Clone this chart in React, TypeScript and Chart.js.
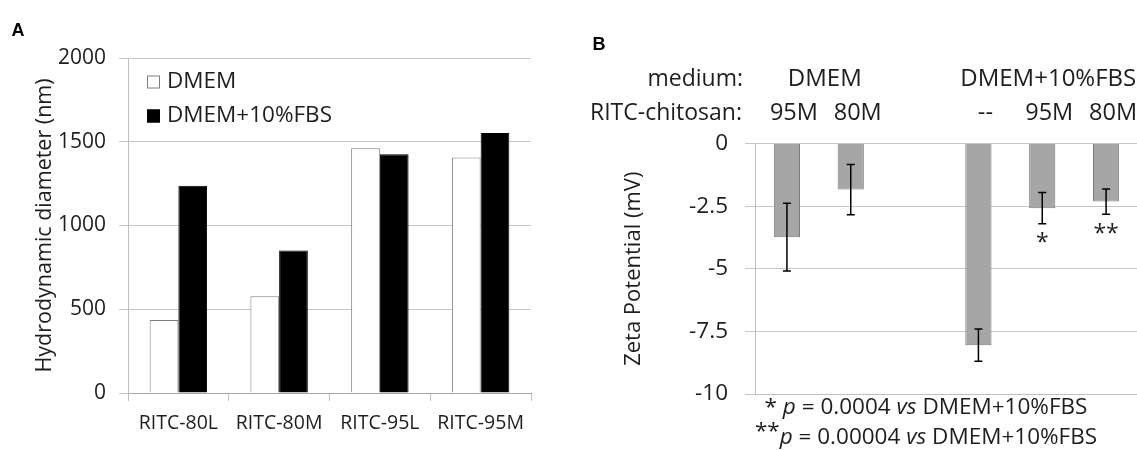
import React, { useEffect, useRef } from 'react';
import { Chart, registerables } from 'chart.js';

Chart.register(...registerables);

const FONT = "'Open Sans', sans-serif";
const TEXT = '#1e1e1e';

// ---- Panel A: hydrodynamic diameter ----
const sizeCategories = ['RITC-80L', 'RITC-80M', 'RITC-95L', 'RITC-95M'];
const sizeSeriesNames = ['DMEM', 'DMEM+10%FBS'];
const sizeDMEM = [436, 578, 1461, 1406];
const sizeFBS = [1238, 851, 1426, 1552];
const sizeTickStep = 500;
const sizeMax = 2000;
const sizeTitle = 'Hydrodynamic diameter (nm)';

// ---- Panel B: zeta potential ----
const zetaMedium = ['DMEM', 'DMEM', '', 'DMEM+10%FBS', 'DMEM+10%FBS', 'DMEM+10%FBS'];
const zetaChitosan = ['95M', '80M', '', '--', '95M', '80M'];
const zetaValues = [-3.74, -1.84, null, -8.05, -2.58, -2.32];
const zetaErrors = [1.35, 1.0, null, 0.64, 0.62, 0.5];
const zetaSignificance = ['', '', '', '', '*', '**'];
const zetaTickStep = 2.5;
const zetaMin = -10;
const zetaTitle = 'Zeta Potential (mV)';
const zetaRowLabels = ['medium:', 'RITC-chitosan:'];
const footnotes = [
  [
    { t: '* ', i: false, sup: false },
    { t: 'p', i: true, sup: false },
    { t: ' = 0.0004 ', i: false, sup: false },
    { t: 'vs', i: true, sup: false },
    { t: ' DMEM+10%FBS', i: false, sup: false },
  ],
  [
    { t: '**', i: false, sup: true },
    { t: 'p', i: true, sup: false },
    { t: ' = 0.00004 ', i: false, sup: false },
    { t: 'vs', i: true, sup: false },
    { t: ' DMEM+10%FBS', i: false, sup: false },
  ],
];

const panelLabel = (letter: string, x: number, y: number) => ({
  id: 'panelLabel' + letter,
  afterDraw(chart: any) {
    const ctx = chart.ctx;
    ctx.save();
    ctx.font = "bold 18px 'Liberation Sans', Arial, sans-serif";
    ctx.fillStyle = '#000';
    ctx.textAlign = 'center';
    ctx.textBaseline = 'middle';
    ctx.fillText(letter, x, y);
    ctx.restore();
  },
});

// legend drawn inside the plot area, top-left, stacked vertically
const insideLegendPlugin = {
  id: 'insideLegend',
  afterDraw(chart: any) {
    const ctx = chart.ctx;
    const { left, top } = chart.chartArea;
    ctx.save();
    ctx.font = `22.5px ${FONT}`;
    ctx.textBaseline = 'middle';
    ctx.textAlign = 'left';
    chart.data.datasets.forEach((ds: any, i: number) => {
      const bx = left + 19;
      const cy = top + 24 + i * 34;
      ctx.fillStyle = ds.backgroundColor;
      ctx.fillRect(bx, cy - 6.5, 13, 13);
      ctx.strokeStyle = ds.borderColor;
      ctx.lineWidth = 1;
      ctx.strokeRect(bx + 0.5, cy - 6, 12, 12);
      ctx.fillStyle = TEXT;
      ctx.fillText(ds.label, bx + 20, cy);
    });
    ctx.restore();
  },
};

const errorBarsPlugin = {
  id: 'errorBars',
  afterDatasetsDraw(chart: any) {
    const xs = chart.scales.x;
    const ys = chart.scales.y;
    const ctx = chart.ctx;
    ctx.save();
    zetaValues.forEach((v, i) => {
      if (v == null) return;
      const e = zetaErrors[i] as number;
      const px = xs.getPixelForValue(i);
      const top = ys.getPixelForValue(v + e);
      const bot = ys.getPixelForValue(v - e);
      ctx.strokeStyle = '#000';
      ctx.lineWidth = 1.5;
      ctx.beginPath();
      ctx.moveTo(px, top);
      ctx.lineTo(px, bot);
      ctx.moveTo(px - 4, top);
      ctx.lineTo(px + 4, top);
      ctx.moveTo(px - 4, bot);
      ctx.lineTo(px + 4, bot);
      ctx.stroke();
      if (zetaSignificance[i]) {
        ctx.font = `23px ${FONT}`;
        ctx.fillStyle = TEXT;
        ctx.textAlign = 'center';
        ctx.textBaseline = 'middle';
        ctx.fillText(zetaSignificance[i], px, bot + 20);
      }
    });
    ctx.restore();
  },
};

const zetaHeaderPlugin = {
  id: 'zetaHeader',
  afterDraw(chart: any) {
    const xs = chart.scales.x;
    const ctx = chart.ctx;
    const left = chart.chartArea.left;
    ctx.save();
    ctx.font = `23px ${FONT}`;
    ctx.fillStyle = TEXT;
    ctx.textBaseline = 'middle';
    ctx.textAlign = 'right';
    ctx.fillText(zetaRowLabels[0], left - 12, 79);
    ctx.fillText(zetaRowLabels[1], left - 13, 113);
    ctx.textAlign = 'center';
    const groups: Record<string, number[]> = {};
    zetaMedium.forEach((m, i) => {
      if (!m) return;
      (groups[m] = groups[m] || []).push(xs.getPixelForValue(i));
    });
    Object.keys(groups).forEach((m) => {
      const px = groups[m];
      const cx = px.reduce((a, b) => a + b, 0) / px.length;
      ctx.font = `24px ${FONT}`;
      ctx.fillText(m, cx + 6, 79);
    });
    ctx.font = `23.5px ${FONT}`;
    zetaChitosan.forEach((c, i) => {
      if (c) ctx.fillText(c, xs.getPixelForValue(i) + 7, 113);
    });

    // footnotes
    const size = 22.5;
    const fontFor = (r: any) => `${r.i ? 'italic ' : ''}${size}px ${FONT}`;
    const cx = left + 171;
    const ys = [408, 438];
    ctx.textAlign = 'left';
    footnotes.forEach((runs, li) => {
      let total = 0;
      runs.forEach((r) => {
        ctx.font = fontFor(r);
        total += ctx.measureText(r.t).width;
      });
      let x = cx - total / 2;
      runs.forEach((r) => {
        ctx.font = fontFor(r);
        ctx.fillText(r.t, x, r.sup ? ys[li] - 6 : ys[li]);
        x += ctx.measureText(r.t).width;
      });
    });
    ctx.restore();
  },
};

const plainNumber = (v: any) => String(v);

export default function App() {
  const refA = useRef<HTMLCanvasElement>(null);
  const refB = useRef<HTMLCanvasElement>(null);

  useEffect(() => {
    const a = new Chart(refA.current as HTMLCanvasElement, {
      type: 'bar',
      data: {
        labels: sizeCategories,
        datasets: [
          {
            label: sizeSeriesNames[0],
            data: sizeDMEM,
            backgroundColor: '#ffffff',
            borderColor: '#7f7f7f',
            borderWidth: 1,
            categoryPercentage: 0.57,
            barPercentage: 1.0,
          },
          {
            label: sizeSeriesNames[1],
            data: sizeFBS,
            backgroundColor: '#000000',
            borderColor: '#000000',
            borderWidth: 1,
            categoryPercentage: 0.57,
            barPercentage: 1.0,
          },
        ],
      },
      options: {
        responsive: false,
        animation: false,
        layout: { padding: { left: 0, top: 58, right: 34, bottom: 0 } },
        plugins: {
          legend: { display: false },
          tooltip: { enabled: false },
        },
        scales: {
          x: {
            grid: { display: true, drawOnChartArea: false, tickLength: 8, color: '#bfbfbf', offset: true },
            border: { color: '#a6a6a6' },
            ticks: { color: TEXT, font: { family: FONT, size: 19.5 }, padding: 11 },
            afterFit: (s: any) => {
              s.height = 57;
            },
          },
          y: {
            min: 0,
            max: sizeMax,
            ticks: {
              stepSize: sizeTickStep,
              color: TEXT,
              font: { family: FONT, size: 21 },
              padding: 13,
              callback: plainNumber,
            },
            grid: { color: '#c6c6c6', tickLength: 9 },
            border: { color: '#bfbfbf' },
            title: {
              display: true,
              text: sizeTitle,
              color: TEXT,
              font: { family: FONT, size: 21.5 },
              padding: { top: 32, bottom: 0 },
            },
            afterFit: (s: any) => {
              s.width = 128;
            },
          },
        },
      },
      plugins: [insideLegendPlugin, panelLabel('A', 18, 31)],
    });

    const b = new Chart(refB.current as HTMLCanvasElement, {
      type: 'bar',
      data: {
        labels: zetaChitosan,
        datasets: [
          {
            label: zetaTitle,
            data: zetaValues,
            backgroundColor: '#a6a6a6',
            borderColor: '#7a7a7a',
            borderWidth: 1,
            categoryPercentage: 1,
            barPercentage: 0.41,
          },
        ],
      },
      options: {
        responsive: false,
        animation: false,
        layout: { padding: { left: 0, top: 143.5, right: 27, bottom: 0 } },
        plugins: {
          legend: { display: false },
          tooltip: { enabled: false },
        },
        scales: {
          x: {
            grid: { display: false },
            border: { display: true, color: '#bfbfbf' },
            ticks: { display: false },
            afterFit: (s: any) => {
              s.height = 56;
            },
          },
          y: {
            min: zetaMin,
            max: 0,
            ticks: {
              stepSize: zetaTickStep,
              color: TEXT,
              font: { family: FONT, size: 22.5 },
              padding: 17,
              callback: plainNumber,
            },
            grid: { color: '#c6c6c6', tickLength: 10 },
            border: { color: '#bfbfbf' },
            title: {
              display: true,
              text: zetaTitle,
              color: TEXT,
              font: { family: FONT, size: 22 },
              padding: { top: 56, bottom: 0 },
            },
            afterFit: (s: any) => {
              s.width = 190;
            },
          },
        },
      },
      plugins: [errorBarsPlugin, zetaHeaderPlugin, panelLabel('B', 34, 45)],
    });

    return () => {
      a.destroy();
      b.destroy();
    };
  }, []);

  return (
    <div
      style={{
        position: 'fixed',
        left: 0,
        top: 0,
        width: 1137,
        height: 450,
        overflow: 'hidden',
        background: '#ffffff',
      }}
    >
      <canvas
        ref={refA}
        width={565}
        height={450}
        style={{ position: 'absolute', left: 0, top: 0, width: 565, height: 450 }}
      />
      <canvas
        ref={refB}
        width={600}
        height={450}
        style={{ position: 'absolute', left: 565, top: 0, width: 600, height: 450 }}
      />
    </div>
  );
}
